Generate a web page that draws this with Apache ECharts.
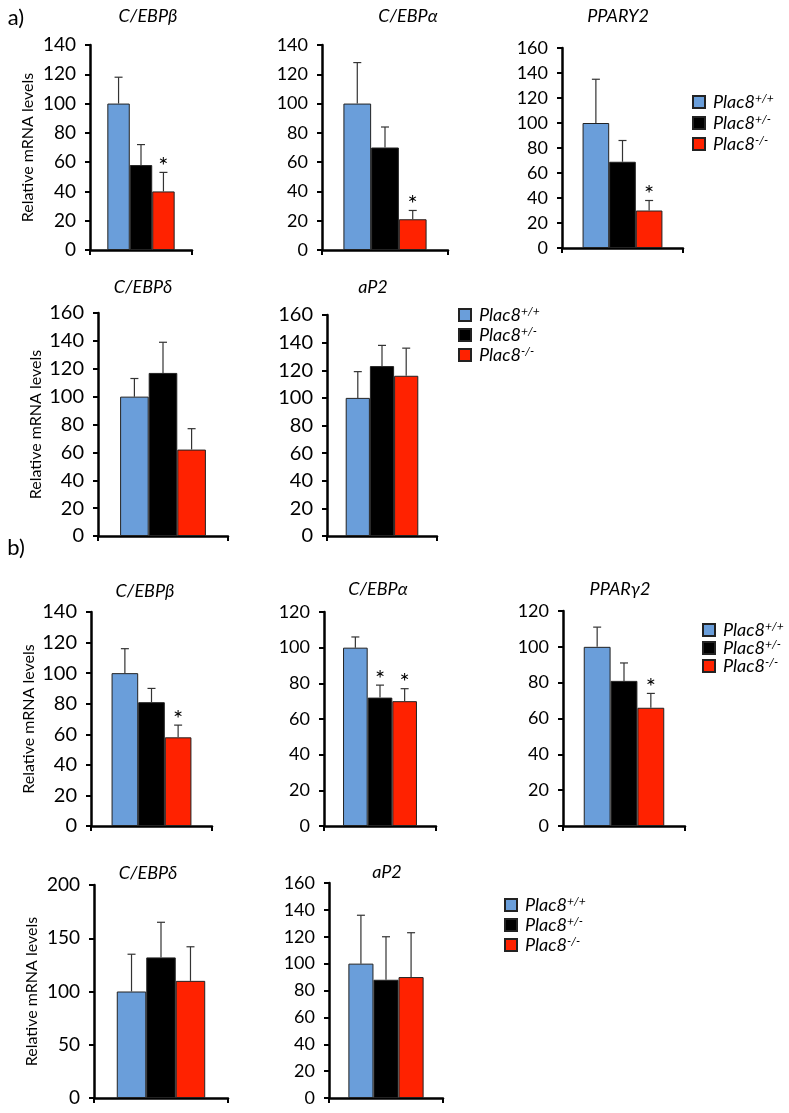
<!DOCTYPE html>
<html>
<head>
<meta charset="utf-8">
<script src="https://cdn.jsdelivr.net/npm/echarts@6/dist/echarts.min.js"></script>
<style>
html,body{margin:0;padding:0;background:#fff;}
#chart{width:789px;height:1113px;}
</style>
</head>
<body>
<div id="chart"></div>
<script>
// ---------- data ----------
const categories = ['C/EBPβ','C/EBPα','PPARY2','C/EBPδ','aP2','C/EBPβ','C/EBPα','PPARγ2','C/EBPδ','aP2'];
const genotypes = ['Plac8+/+','Plac8+/-','Plac8-/-'];
const wtMean  = [100,100,100,100,100,100,100,100,100,100];
const hetMean = [58, 70, 69, 117,123, 81, 72, 81, 132, 88];
const koMean  = [40, 21, 30, 62, 116, 58, 70, 66, 110, 90];
const wtSem   = [18, 28, 35, 13, 19, 16, 6, 11, 35, 36];
const hetSem  = [14, 14, 17, 22, 15, 9, 7, 10, 33, 32];
const koSem   = [13, 6, 8, 15, 20, 8, 7, 8, 32, 33];
const wtStar  = [0,0,0,0,0,0,0,0,0,0];
const hetStar = [0,0,0,0,0,0,1,0,0,0];
const koStar  = [1,1,1,0,0,1,1,1,0,0];
const yMax    = [140,140,160,160,160,140,120,120,200,160];
const yStep   = [20,20,20,20,20,20,20,20,50,20];
const yAxisName = 'Relative mRNA levels';
const panelLabels = ['a)','b)'];

// ---------- layout ----------
const FONT = 'Lato, "Open Sans", sans-serif';
const GAP = 0.34;
const colors = ['#6A9EDA', '#000000', '#FF2200'];
const layout = [
  {l:90,  t:45,  w:102, h:205, fs:19, name:true},
  {l:322, t:45,  w:126, h:205, fs:18},
  {l:562, t:48,  w:121, h:200, fs:18},
  {l:98,  t:313, w:130, h:223, fs:20, name:true},
  {l:327, t:315, w:110, h:221, fs:20},
  {l:91,  t:612, w:121, h:214, fs:20, name:true},
  {l:324, t:612, w:112, h:214, fs:18},
  {l:563, t:611, w:122, h:215, fs:18},
  {l:94,  t:885, w:134, h:213, fs:19, name:true},
  {l:329, t:883, w:114, h:215, fs:18}
];
const titlePos = [[148,16],[408,16],[618,16],[143,287],[373,287],[145,591],[378,589],[620,589],[148,873],[387,872]];
const legendPos = [{l:687,t:87,gap:1},{l:453,t:300,gap:0},{l:697,t:615,gap:-2},{l:499,t:890,gap:0}];
const letterPos = [[16,18],[16,548]];

const means = [wtMean, hetMean, koMean];
const sems = [wtSem, hetSem, koSem];
const stars = [wtStar, hetStar, koStar];

const grids = [], xAxes = [], yAxes = [], series = [], graphics = [];
layout.forEach((g, p) => {
  grids.push({left:g.l, top:g.t, width:g.w, height:g.h, containLabel:false});
  xAxes.push({
    type:'category', gridIndex:p, data:[categories[p]],
    axisLine:{lineStyle:{color:'#000', width:2.5}},
    axisTick:{show:true, length:5, lineStyle:{color:'#000', width:2}},
    axisLabel:{show:false}, splitLine:{show:false}
  });
  yAxes.push({
    type:'value', gridIndex:p, min:0, max:yMax[p], interval:yStep[p],
    name: g.name ? yAxisName : '', nameLocation:'middle', nameGap:54,
    nameTextStyle:{fontFamily:FONT, fontSize:16, color:'#000'},
    axisLine:{show:true, lineStyle:{color:'#000', width:2.5}},
    axisTick:{show:true, length:5, lineStyle:{color:'#000', width:2}},
    axisLabel:{fontFamily:FONT, fontSize:g.fs, color:'#000', margin:14},
    splitLine:{show:false}
  });
  genotypes.forEach((gt, k) => {
    series.push({
      type:'bar', name:gt, xAxisIndex:p, yAxisIndex:p,
      data:[means[k][p]], barGap:'0%', barCategoryGap:(GAP*100)+'%',
      itemStyle:{color:colors[k], borderColor:'#222', borderWidth:1},
      silent:true, animation:false
    });
  });
  const errData = genotypes.map((gt, k) => [0, k, means[k][p], sems[k][p], stars[k][p]]);
  series.push({
    type:'custom', xAxisIndex:p, yAxisIndex:p, data:errData, z:10, silent:true, animation:false,
    encode:{x:0, y:2},
    renderItem:function(params, api){
      const k = api.value(1), m = api.value(2), s = api.value(3), st = api.value(4);
      const c = api.coord([0, m]);
      const tp = api.coord([0, m + s]);
      const band = api.size([1, 0])[0];
      const bw = band * (1 - GAP) / 3;
      const x = c[0] + (k - 1) * bw;
      const children = [
        {type:'line', shape:{x1:x, y1:c[1], x2:x, y2:tp[1]}, style:{stroke:'#333', lineWidth:1.2}},
        {type:'line', shape:{x1:x-4, y1:tp[1], x2:x+4, y2:tp[1]}, style:{stroke:'#333', lineWidth:1.2}}
      ];
      if (st) {
        children.push({type:'text', style:{text:'*', x:x, y:tp[1]-6, textAlign:'center', textVerticalAlign:'middle',
          font:'24px ' + FONT, fill:'#000'}});
      }
      return {type:'group', children:children};
    }
  });
  graphics.push({type:'text', x:titlePos[p][0], y:titlePos[p][1],
    style:{text:categories[p], textAlign:'center', textVerticalAlign:'middle',
      font:'italic 18px ' + FONT, fill:'#000'}});
});
panelLabels.forEach((t, i) => {
  graphics.push({type:'text', x:letterPos[i][0], y:letterPos[i][1],
    style:{text:t, textAlign:'center', textVerticalAlign:'middle', font:'22px ' + FONT, fill:'#000'}});
});

const legends = legendPos.map(lp => ({
  data: genotypes, orient:'vertical', left:lp.l, top:lp.t, itemWidth:12, itemHeight:12,
  itemGap:lp.gap, selectedMode:false, icon:'rect',
  formatter: function(name){ const m = name.match(/^(Plac8)(.*)$/); return m[1] + '{s|' + m[2] + '}'; },
  textStyle:{fontFamily:FONT, fontSize:18, fontStyle:'italic', color:'#000', lineHeight:20, padding:[0,0,0,3],
    rich:{s:{fontFamily:FONT, fontSize:12, fontStyle:'italic', color:'#000', verticalAlign:'top', lineHeight:20, padding:[0,0,7,0]}}}
}));

const chart = echarts.init(document.getElementById('chart'), null, {renderer:'canvas'});
chart.setOption({
  animation:false,
  backgroundColor:'#fff',
  grid:grids, xAxis:xAxes, yAxis:yAxes, series:series, legend:legends, graphic:graphics
});
</script>
</body>
</html>
